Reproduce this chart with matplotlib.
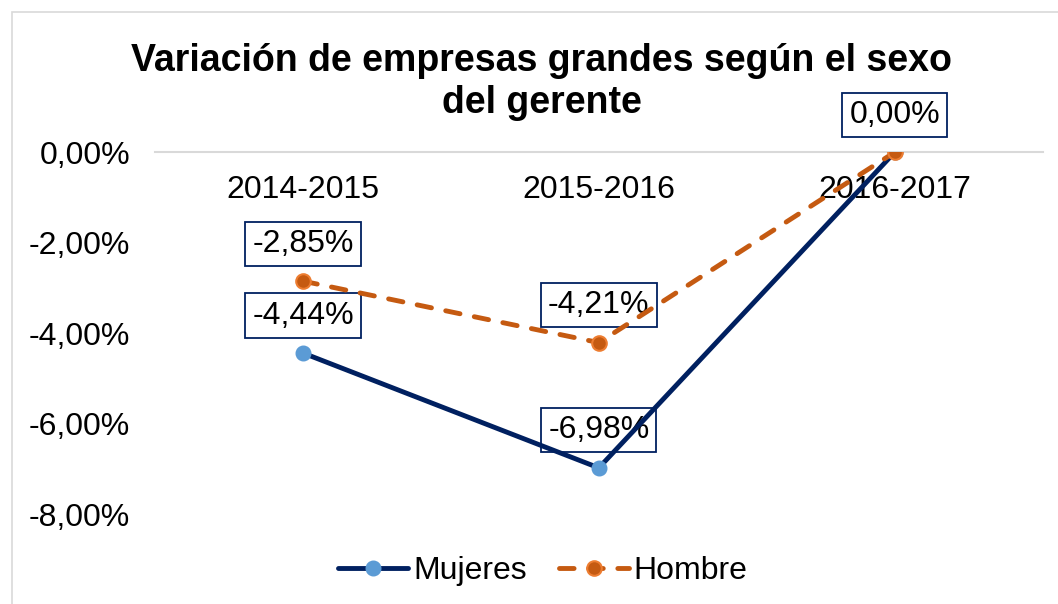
import matplotlib.pyplot as plt
from matplotlib.patches import Rectangle
from matplotlib.ticker import FuncFormatter

plt.rcParams['font.family'] = ['Liberation Sans', 'DejaVu Sans']

periodos = ["2014-2015", "2015-2016", "2016-2017"]
mujeres = [-4.44, -6.98, 0.00]
hombre = [-2.85, -4.21, 0.00]
# which points carry a data label (Excel only showed one for the last point)
etiqueta_mujeres = [True, True, False]
etiqueta_hombre = [True, True, True]
titulo = ["Variación de empresas grandes según el sexo", "del gerente"]

fig = plt.figure(figsize=(10.58, 6.04), dpi=100)
ax = fig.add_axes([0.1465, 0.149, 0.839, 0.599])

# light grey chart border
fig.patches.append(Rectangle((12 / 1058, -0.05), 1.1, 1 - 12 / 604 + 0.05,
                             transform=fig.transFigure, fill=False,
                             edgecolor='#d9d9d9', linewidth=1.2))

x = [i + 0.5 for i in range(len(periodos))]

ax.plot(x, mujeres, color='#002060', linewidth=3.5, marker='o', markersize=10.5,
        markerfacecolor='#5b9bd5', markeredgecolor='#5b9bd5', label='Mujeres',
        solid_capstyle='round', zorder=6)
ax.plot(x, hombre, color='#c55a11', linewidth=3.5, linestyle=(0, (3, 3)),
        dash_capstyle='round', marker='o', markersize=10.5,
        markerfacecolor='#c55a11', markeredgecolor='#ed7d31', markeredgewidth=1.5,
        label='Hombre', zorder=7)

caja = dict(boxstyle='square,pad=0.22', facecolor='white', edgecolor='#002060', linewidth=1.3)
for xi, v, show in zip(x, mujeres, etiqueta_mujeres):
    if show:
        ax.annotate(f"{v:.2f}%".replace('.', ','), (xi, v), xytext=(0, 27),
                    textcoords='offset points', ha='center', va='center',
                    fontsize=23, bbox=caja, zorder=4)
for xi, v, show in zip(x, hombre, etiqueta_hombre):
    if show:
        ax.annotate(f"{v:.2f}%".replace('.', ','), (xi, v), xytext=(0, 27),
                    textcoords='offset points', ha='center', va='center',
                    fontsize=23, bbox=caja, zorder=4)

ax.set_xlim(0, 3)
ax.set_ylim(-8, 0)
ax.set_yticks([0, -2, -4, -6, -8])
ax.yaxis.set_major_formatter(FuncFormatter(lambda v, p: f"{v:.2f}%".replace('.', ',')))
ax.tick_params(axis='y', length=0, labelsize=23, pad=18)
ax.set_xticks([])
for s in ['left', 'right', 'bottom']:
    ax.spines[s].set_visible(False)
ax.spines['top'].set_color('#d9d9d9')
ax.spines['top'].set_linewidth(1.5)

for xi, p in zip(x, periodos):
    ax.text(xi, -0.84, p, ha='center', va='center', fontsize=23, zorder=2)

fig.text(0.512, 0.899, titulo[0], ha='center', va='center', fontsize=27, fontweight='bold')
fig.text(0.512, 0.829, titulo[1], ha='center', va='center', fontsize=27, fontweight='bold')

fig.legend(loc='center', bbox_to_anchor=(0.513, 0.055), ncol=2, frameon=False,
           fontsize=23, handlelength=2.2, columnspacing=1.0, handletextpad=0.15)

fig.savefig('out.png', dpi=100)
